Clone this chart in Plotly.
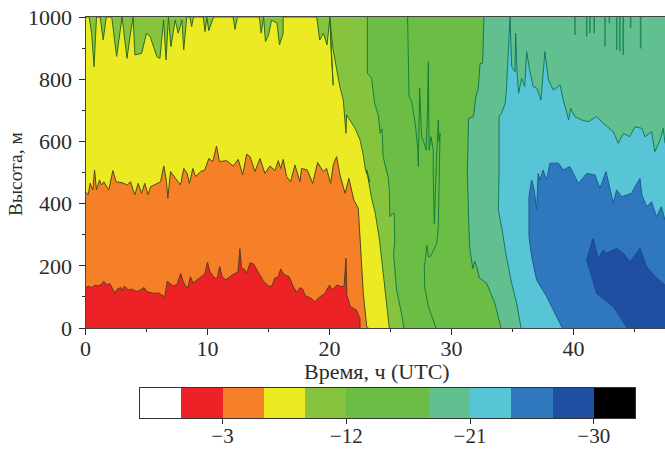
import plotly.graph_objects as go

T_MAX = 47.5
H_MAX = 1000

# isotherm -3
iso3_t = [0,.2,.5,.8,1,1.3,1.5,1.7,2,2.2,2.4,2.6,2.9,3,3.2,3.5,3.8,4,4.3,4.6,4.8,5,5.5,6,6.3,6.5,6.7,6.9,7.2,7.5,7.8,8,8.2,8.4,8.6,8.8,9,9.5,9.8,10,10.2,10.6,10.8,11,11.2,11.5,12,12.5,12.65,12.8,13,13.2,13.5,13.8,14,14.3,14.6,15,15.3,15.5,15.8,16,16.2,16.4,16.7,17,17.3,17.6,17.8,18,18.5,18.8,19.2,19.6,20,20.2,20.6,20.95,21.2,21.35,21.38,21.42,21.7,22.2,22.5,22.5]
iso3_h = [125,135,130,138,135,140,150,140,142,125,112,125,130,120,135,122,125,120,118,125,130,118,112,112,105,100,150,145,135,140,175,150,135,130,165,145,150,165,175,212,180,160,160,198,165,155,170,180,255,190,190,175,210,205,190,170,150,135,135,160,165,190,175,170,165,135,115,130,125,105,95,85,100,110,138,122,138,133,135,224,135,106,69,58,30,0]

# isotherm -6
iso6_t = [0,.22,.38,.6,.74,.9,1.15,1.31,1.5,1.91,2.24,2.51,3.0,3.42,3.69,4.04,4.32,4.59,4.86,5.14,5.33,5.87,6.15,6.42,6.64,6.75,6.97,7.38,7.79,8.06,8.33,8.52,8.8,9.02,9.43,9.78,10.11,10.44,10.74,10.98,11.57,12.11,12.52,12.88,13.21,13.48,13.89,14.3,14.71,15.12,15.53,15.8,16.0,16.21,16.48,16.81,17.17,17.58,17.71,18.18,18.62,19.03,19.49,19.76,20.09,20.31,20.58,20.86,21.27,21.59,22.0,22.36,22.55,22.77,23.05,23.2]
iso6_h = [438,428,465,444,508,444,476,460,470,444,506,470,467,460,470,428,465,433,465,428,454,465,470,521,470,417,503,481,460,513,497,465,513,487,503,508,545,535,585,535,538,521,542,492,559,551,503,545,497,521,506,538,513,542,487,470,524,470,513,508,465,532,503,513,465,524,551,492,433,481,411,385,262,111,4,0]

# isotherm -9
iso9_t = [24.9,24.7,24.45,24.1,23.75,23.45,23.2,23.05,23.3,22.95,22.77,22.5,22.1,21.7,21.4,21.35,21.13,20.85,20.6,20.3,20.15,20.04,20.3,20.1,20.04,19.8,19.5,19.2,18.95,16.2,16.2,15.9,15.7,15.25,15.0,14.75,14.6,14.4,14.25,12.45,12.25,12.1,10.5,10.1,9.95,9.8,9.65,8.85,8.7,8.55,8.3,8.05,7.9,7.6,7.35,7.0,6.8,6.6,6.4,6.1,5.85,5.4,5.3,5.0,4.6,4.05,3.9,3.65,3.4,3.0,2.55,2.15,1.7,1.45,1.2,.9,.7,.5,.3,.05]
iso9_h = [0,79,160,283,369,417,476,508,470,508,556,605,642,669,685,626,733,776,830,894,948,990,781,915,1000,910,948,926,1000,1000,948,910,980,990,942,921,1000,948,1000,1000,960,1000,1000,956,1000,953,1000,1000,969,1000,1000,894,990,948,990,905,1000,862,990,867,873,926,937,948,883,878,1000,937,867,1000,873,1000,1000,926,1000,1000,840,948,1000,1000]

# isotherm -12
iso12_t = [26.1,25.9,25.5,25.25,25.35,25.3,25.2,24.95,24.9,24.8,24.65,24.4,24.3,24.15,24.0,23.7,23.45,23.1,23.1]
iso12_h = [0,47,122,240,280,370,369,358,444,487,508,551,640,626,685,722,803,819,1000]

# isotherm -15
iso15_t = [28.73,28.4,28.1,27.8,27.77,27.85,27.97,28.12,28.24,28.4,28.79,28.92,29.06,28.98,28.92,28.79,28.59,28.51,28.5,28.32,28.16,28.1,28.02,27.91,27.77,27.55,27.39,27.28,27.23,27.06,26.74,26.52,26.46,26.4]
iso15_h = [0,34,69,133,197,218,267,229,229,240,272,325,626,600,669,560,336,476,572,615,572,856,674,572,594,615,771,519,577,647,728,744,862,1000]

# isotherm -18
iso18_t = [34.06,33.56,32.88,32.3,32.06,31.9,31.75,31.5,31.4,31.3,31.4,31.8,32,32.2,32.34,32.55,32.66]
iso18_h = [0,79,144,160,197,215,190,256,347,508,674,680,744,771,851,851,1000]

# isotherm -21
iso21_t = [35.7,35.34,34.93,34.5,34.1,33.84,33.9,33.9,34.1,34.4,34.5,34.66,34.8,34.93,35.2,35.26,35.36,35.5,35.75,36,36.16,36.4,36.7,37,37.33,37.66,37.94,38.35,38.9,39.17,39.6,39.77,40.1,40.67,41.2,41.9,42.44,43.26,43.67,44.1,44.6,45.04,45.6,45.86,46.4,46.67,47.1,47.36,47.5]
iso21_h = [0,79,144,229,326,379,508,680,690,722,765,894,1000,840,824,948,830,755,803,776,889,830,776,771,733,889,798,765,781,733,669,706,680,669,663,680,658,631,594,626,615,647,642,615,631,567,605,642,594]

# isotherm -24
iso24_t = [39.08,37.8,36.98,36.57,36.35,36.35,36.57,36.78,36.98,37.1,37.27,37.5,37.8,38.07,38.76,39.15,39.7,40.26,40.4,41.08,41.76,42.17,42.66,43.26,43.54,43.95,44.77,45.04,45.45,45.6,46,46.4,46.8,47.2,47.5]
iso24_h = [0,101,154,229,294,422,476,444,379,497,476,508,476,530,530,508,519,476,465,497,492,449,503,401,444,422,433,454,481,428,390,406,358,390,347]

# isotherm -27
iso27_t = [44.4,43.26,41.9,41.5,41.08,41.6,42.03,42.44,42.7,43.54,44.1,44.63,45.45,46,46.7,47.5]
iso27_h = [0,69,111,165,219,288,224,251,240,256,240,213,256,197,165,138]

# thin warmer fingers hanging from the top inside the -18..-21 band
finger_t = [40.12,41.08,41.35,41.7,42.58,42.94,43.54,43.8,44.08,44.68,45.5]
finger_h = [942,937,948,948,905,980,894,889,878,964,899]

# closing corners per curve (time, height)
close_left = ([T_MAX,T_MAX,0],[0,H_MAX,H_MAX])
close_top = ([T_MAX,T_MAX],[H_MAX,0])
close_right = ([T_MAX],[0])

band_colors = ["#f58028","#ecea22","#86c440","#6bbd45","#6bbd45","#62bf8f","#57c5d5","#2f78bd","#1f4fa3"]
line_colors = ["#5a3c1e","#4a4a1c","#2f6a22","#14803a","#14803a","#15784f","#137a5e","#1f5a9a","#1a4a90"]
RED = "#ec2227"

curves = [
    (iso3_t, iso3_h, close_left),
    (iso6_t, iso6_h, close_left),
    (iso9_t, iso9_h, close_top),
    (iso12_t, iso12_h, close_top),
    (iso15_t, iso15_h, close_top),
    (iso18_t, iso18_h, close_top),
    (iso21_t, iso21_h, close_right),
    (iso24_t, iso24_h, close_right),
    (iso27_t, iso27_h, close_right),
]

# colour bar
cbar_edges = [3,0,-3,-6,-9,-12,-15,-18,-21,-24,-27,-30,-33]
cbar_colors = ["#ffffff",RED,"#f58028","#ecea22","#86c440","#6bbd45","#6bbd45","#62bf8f","#57c5d5","#2f78bd","#1f4fa3","#000000"]
cbar_ticks = [-3,-12,-21,-30]
cbar_labels = ["\u22123","\u221212","\u221221","\u221230"]

FONT = "Liberation Serif"
INK = "#2b2b2b"
fig = go.Figure()
for i,(t,h,cl) in enumerate(curves):
    fig.add_trace(go.Scatter(x=list(t)+cl[0], y=list(h)+cl[1], mode="lines", fill="toself",
                             fillcolor=band_colors[i], line=dict(width=0), hoverinfo="skip", showlegend=False))
for i,(t,h,cl) in enumerate(curves):
    fig.add_trace(go.Scatter(x=t, y=h, mode="lines", line=dict(color=line_colors[i], width=1), hoverinfo="skip", showlegend=False))
fx, fy = [], []
for a,b in zip(finger_t, finger_h):
    fx += [a,a,None]; fy += [H_MAX,b,None]
fig.add_trace(go.Scatter(x=fx, y=fy, mode="lines", line=dict(color="#1f8a5a", width=1.5), hoverinfo="skip", showlegend=False))

fig.add_trace(go.Bar(x=[(a+b)/2 for a,b in zip(cbar_edges[:-1],cbar_edges[1:])], y=[1]*12, width=3,
                     marker=dict(color=cbar_colors, line=dict(width=0)), xaxis="x2", yaxis="y2", showlegend=False, hoverinfo="skip"))

axis_font = dict(family=FONT, size=22, color=INK)
cbar_font = dict(family=FONT, size=21, color=INK)
ylab_font = dict(family=FONT, size=19.5, color=INK)
fig.update_layout(
    width=665, height=449, margin=dict(l=0,r=0,t=0,b=0), paper_bgcolor="white", plot_bgcolor=RED, font=axis_font,
    xaxis=dict(domain=[85.5/665,1], anchor="y", automargin=False, range=[0,T_MAX], tickmode="array", tickvals=[0,10,20,30,40], ticks="outside", ticklen=6, tickcolor=INK,
               ticklabelstandoff=-5,
               minor=dict(tickvals=[5,15,25,35,45], ticks="outside", ticklen=3, tickcolor=INK),
               showgrid=False, zeroline=False, showline=True, linecolor="#444", mirror=True, tickfont=axis_font),
    yaxis=dict(domain=[1-328/449,1-17/449], anchor="x", automargin=False, range=[0,H_MAX], tickmode="array", tickvals=[0,200,400,600,800,1000], ticks="outside", ticklen=6, tickcolor=INK,
               ticklabelstandoff=2,
               minor=dict(tickvals=[100,300,500,700,900], ticks="outside", ticklen=3, tickcolor=INK),
               showgrid=False, zeroline=False, showline=True, linecolor="#444", mirror=True, tickfont=axis_font),
    xaxis2=dict(domain=[140/665,635/665], anchor="y2", automargin=False, range=[3,-33], tickmode="array", tickvals=cbar_ticks, ticktext=cbar_labels, ticks="outside", ticklen=5,
                ticklabelstandoff=-6, tickcolor=INK, showgrid=False, zeroline=False, showline=True, linecolor="#333", mirror=True, tickfont=cbar_font),
    yaxis2=dict(domain=[1-418/449,1-388/449], anchor="x2", automargin=False, range=[0,1], showticklabels=False, ticks="", showgrid=False, zeroline=False, showline=True, linecolor="#333", mirror=True),
    bargap=0,
    annotations=[
        dict(text="Время, ч (UTC)", xref="paper", yref="paper", x=377/665, y=1-371/449, xanchor="center", yanchor="middle", showarrow=False, font=axis_font),
        dict(text="Высота, м", xref="paper", yref="paper", x=15/665, y=1-174/449, xanchor="center", yanchor="middle", textangle=-90, showarrow=False, font=ylab_font),
    ],
)
fig.write_html("out.html", config=dict(displayModeBar=False),
               post_script="document.body.style.margin='0';document.documentElement.style.overflow='hidden';window.dispatchEvent(new Event('resize'));")
